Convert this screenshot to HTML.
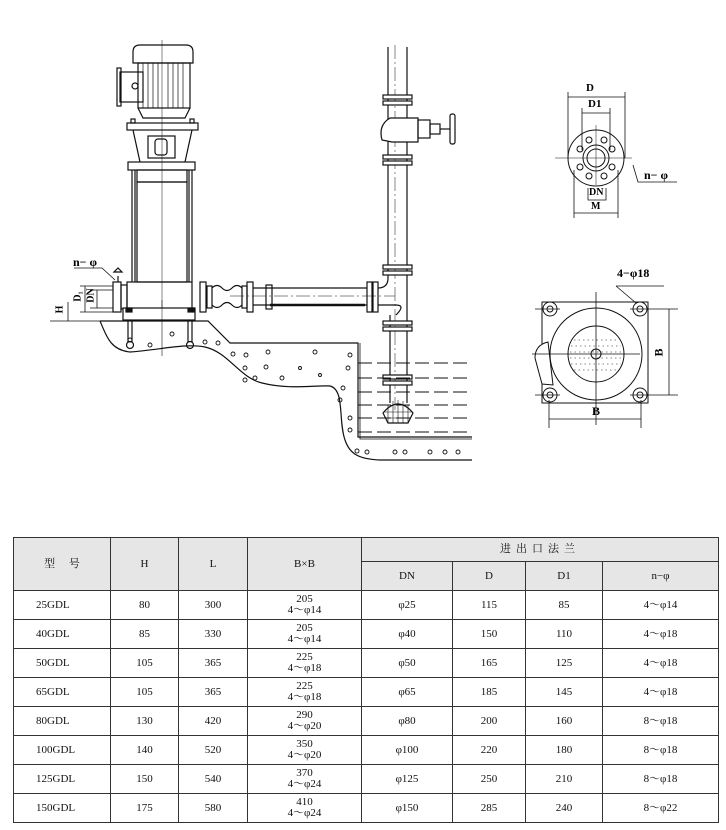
<!DOCTYPE html>
<html><head><meta charset="utf-8">
<style>
html,body{margin:0;padding:0;background:#fff;}
body{width:726px;height:830px;position:relative;overflow:hidden;font-family:"Liberation Serif","Noto Serif CJK SC",serif;}
svg{position:absolute;left:0;top:0;}
table{position:absolute;left:13px;top:537px;border-collapse:collapse;width:705px;font-size:11px;color:#111;table-layout:fixed;}
td{border:1px solid #333;text-align:center;padding:0;height:28px;line-height:11px;overflow:hidden;}
.h td{background:#e6e6e6;}
td.m{text-align:left;padding-left:22px;}
</style></head><body>
<svg width="726" height="530" viewBox="0 0 726 530" fill="none" stroke="#111" stroke-width="1.2">
<path d="M100 321 L208 321 L230 343 L358 343 L358 437 L472 437"/>
<path d="M100 321 C108 340 112 350 130 352 C160 350 185 343 205 347 C228 352 240 378 262 383 C290 390 315 385 330 386 C345 390 338 420 345 440 C350 455 360 459 380 460 L472 460"/>
<path d="M360 343 L360 439 L472 439" stroke-width="0.8"/>
<g stroke-width="0.9">
<circle cx="130" cy="340" r="2"/><circle cx="150" cy="345" r="2"/><circle cx="172" cy="334" r="2"/><circle cx="205" cy="342" r="2"/><circle cx="218" cy="343" r="2"/><circle cx="233" cy="354" r="2"/><circle cx="246" cy="355" r="2"/><circle cx="268" cy="352" r="2"/><circle cx="245" cy="368" r="2"/><circle cx="266" cy="367" r="2"/><circle cx="245" cy="380" r="2"/><circle cx="255" cy="378" r="2"/><circle cx="282" cy="378" r="2"/><circle cx="315" cy="352" r="2"/><circle cx="350" cy="355" r="2"/><circle cx="348" cy="368" r="2"/><circle cx="343" cy="388" r="2"/><circle cx="340" cy="400" r="2"/><circle cx="350" cy="418" r="2"/><circle cx="350" cy="430" r="2"/><circle cx="357" cy="451" r="2"/><circle cx="367" cy="452" r="2"/><circle cx="395" cy="452" r="2"/><circle cx="405" cy="452" r="2"/><circle cx="430" cy="452" r="2"/><circle cx="445" cy="452" r="2"/><circle cx="458" cy="452" r="2"/><circle cx="300" cy="368" r="1.5"/><circle cx="320" cy="375" r="1.5"/>
</g>
<line x1="162" y1="300" x2="162" y2="356" stroke-width="0.6"/>
<path d="M128 320 L128 342 M132 320 L132 342"/><circle cx="130" cy="345" r="3.5"/>
<path d="M188 320 L188 342 M192 320 L192 342"/><circle cx="190" cy="345" r="3.5"/>
<path d="M133 63 L133 52 Q133 45 140 45 L186 45 Q193 45 193 52 L193 63 Z"/>
<rect x="138" y="63" width="52" height="45"/>
<g stroke-width="0.7"><path d="M143 63V108M148 63V108M153 63V108M158 63V108M168 63V108M173 63V108M178 63V108M183 63V108"/></g>
<path d="M138 108 L143 118 L185 118 L190 108"/>
<rect x="120" y="72" width="23" height="30"/><rect x="117" y="68" width="4" height="38"/><circle cx="135" cy="86" r="3"/>
<rect x="127" y="123" width="71" height="7"/><rect x="131" y="119" width="4" height="4"/><rect x="190" y="119" width="4" height="4"/>
<path d="M133 130 L140 162 M192 130 L185 162"/>
<rect x="148" y="136" width="27" height="22"/><rect x="155" y="139" width="12" height="16" rx="3"/>
<rect x="128" y="162" width="67" height="8"/>
<rect x="137" y="170" width="50" height="12"/>
<rect x="137" y="182" width="50" height="100"/>
<path d="M132 170V282 M135 170V282 M189 170V282 M192 170V282"/>
<rect x="127" y="282" width="65" height="30"/>
<rect x="113" y="282" width="8" height="30"/><rect x="121" y="285" width="6" height="24"/>
<path d="M118 282 L118 276 M114 272 L122 272 L118 268 Z"/>
<rect x="123" y="308" width="72" height="12" fill="#fff"/><rect x="126" y="308" width="6" height="4" fill="#111"/><rect x="188" y="308" width="6" height="4" fill="#111"/>
<line x1="162" y1="40" x2="162" y2="320" stroke-width="0.5"/>
<rect x="200" y="282" width="6" height="30"/><rect x="207" y="286" width="5" height="22"/>
<path d="M212 288 Q217 283 222 288 Q227 293 232 288 Q237 283 242 288 M212 305 Q217 310 222 305 Q227 300 232 305 Q237 310 242 305"/>
<rect x="242" y="286" width="5" height="22"/><rect x="247" y="282" width="6" height="30"/>
<path d="M253 288 L367 288 M253 305 L367 305" /><path d="M270 305 L365 305" stroke-width="2.4"/>
<rect x="266" y="285" width="6" height="24"/>
<rect x="367" y="282" width="5" height="30"/><rect x="373" y="282" width="5" height="30"/>
<path d="M378 288 Q388 288 388 278 L388 47 M378 305 L396 305 Q406 305 396 315 M390 315 L390 403 M407 47 L407 403"/>
<line x1="395" y1="45" x2="395" y2="410" stroke-width="0.5" stroke-dasharray="14 3 2 3"/>
<line x1="230" y1="296" x2="395" y2="296" stroke-width="0.5" stroke-dasharray="14 3 2 3"/>
<g fill="#fff"><rect x="383" y="95" width="29" height="4"/><rect x="383" y="101" width="29" height="4"/>
<rect x="383" y="155" width="29" height="4"/><rect x="383" y="161" width="29" height="4"/>
<rect x="383" y="265" width="29" height="4"/><rect x="383" y="271" width="29" height="4"/>
<rect x="383" y="321" width="29" height="4"/><rect x="383" y="327" width="29" height="4"/>
<rect x="383" y="375" width="29" height="4"/><rect x="383" y="381" width="29" height="4"/></g>
<path d="M382 140 Q378 125 390 118 L418 118 L418 142 L392 142 Z" fill="#fff"/>
<rect x="418" y="120" width="12" height="18"/><rect x="430" y="124" width="10" height="10"/>
<path d="M440 129 L450 129"/><rect x="450" y="114" width="5" height="30" rx="2"/>
<path d="M383 413 Q398 395 413 413 L408 423 L388 423 Z"/>
<path d="M388 405V423M393 401V423M398 400V423M403 401V423M408 405V423M384 412H412M386 418H410" stroke-width="0.6"/>
<g stroke-width="0.9" stroke-dasharray="14 5"><path d="M358 363H472M358 378H472M358 392H472M358 405H472M358 418H472M358 432H472"/></g>
<path d="M50 321 L125 321 M68 302 L68 321 M85 286 L85 312 M97 290 L97 308 M80 286 L113 286 M80 312 L113 312 M90 290 L113 290 M90 308 L113 308" stroke-width="0.8"/>
<path d="M74 268 L102 268 L115 280" stroke-width="0.8"/>
<g stroke-width="1">
<circle cx="596" cy="158" r="28"/><circle cx="596" cy="158" r="13"/><circle cx="596" cy="158" r="9"/>
<circle cx="589" cy="140" r="3"/><circle cx="604" cy="140" r="3"/><circle cx="580" cy="149" r="3"/><circle cx="612" cy="149" r="3"/><circle cx="580" cy="167" r="3"/><circle cx="612" cy="167" r="3"/><circle cx="589" cy="176" r="3"/><circle cx="604" cy="176" r="3"/>
<path d="M555 158 L632 158 M596 125 L596 185" stroke-width="0.5"/>
<path d="M568 97 L625 97 M568 92 L568 158 M625 92 L625 158 M582 113 L610 113 M582 108 L582 150 M610 108 L610 150 M574 213 L618 213 M574 170 L574 218 M618 170 L618 218 M588 188 L588 200 L606 200 L606 188 M633 165 L638 182 L677 182" stroke-width="0.8"/>
</g>
<g stroke-width="1">
<rect x="542" y="302" width="106" height="101"/>
<circle cx="596" cy="354" r="46"/><circle cx="596" cy="354" r="28"/><circle cx="596" cy="354" r="5"/>
<g stroke-width="0.6" stroke-dasharray="1.5 3"><path d="M574 340H618M571 346H621M570 352H622M570 358H622M571 364H621M574 370H618"/></g>
<circle cx="550" cy="309" r="7"/><circle cx="550" cy="309" r="3"/><circle cx="640" cy="309" r="7"/><circle cx="640" cy="309" r="3"/>
<circle cx="550" cy="395" r="7"/><circle cx="550" cy="395" r="3"/><circle cx="640" cy="395" r="7"/><circle cx="640" cy="395" r="3"/>
<path d="M535 358 Q535 345 548 342 L553 385 L542 384 Z" fill="#fff"/>
<path d="M532 354 L640 354 M596 292 L596 425 M535 309 L560 309 M630 309 L678 309 M535 395 L560 395 M630 395 L678 395 M669 309 L669 395 M549 400 L549 428 M641 400 L641 428 M549 419 L641 419 M616 286 L636 303 M616 286 L664 286" stroke-width="0.8"/>
</g>
</svg>
<div style="position:absolute;left:586px;top:82px;font:bold 11px 'Liberation Serif',serif;">D</div>
<div style="position:absolute;left:588px;top:98px;font:bold 11px 'Liberation Serif',serif;">D1</div>
<div style="position:absolute;left:589px;top:187px;font:bold 10px 'Liberation Serif',serif;">DN</div>
<div style="position:absolute;left:591px;top:201px;font:bold 10px 'Liberation Serif',serif;">M</div>
<div style="position:absolute;left:644px;top:168px;font:bold 12px 'Liberation Serif',serif;">n− φ</div>
<div style="position:absolute;left:617px;top:266px;font:bold 12px 'Liberation Serif',serif;">4−φ18</div>
<div style="position:absolute;left:655px;top:345px;font:bold 12px 'Liberation Serif',serif;transform:rotate(-90deg);">B</div>
<div style="position:absolute;left:592px;top:404px;font:bold 12px 'Liberation Serif',serif;">B</div>
<div style="position:absolute;left:73px;top:255px;font:bold 12px 'Liberation Serif',serif;">n− φ</div>
<div style="position:absolute;left:56px;top:304px;font:bold 10px 'Liberation Serif',serif;transform:rotate(-90deg);">H</div>
<div style="position:absolute;left:73px;top:291px;font:bold 10px 'Liberation Serif',serif;transform:rotate(-90deg);">D₁</div>
<div style="position:absolute;left:84px;top:290px;font:bold 10px 'Liberation Serif',serif;transform:rotate(-90deg);">DN</div>
<table>
<colgroup><col style="width:97px"><col style="width:68px"><col style="width:69px"><col style="width:114px"><col style="width:91px"><col style="width:73px"><col style="width:77px"><col style="width:116px"></colgroup>
<tr class="h"><td rowspan="2">型 &nbsp;&nbsp;&nbsp;&nbsp;号</td><td rowspan="2">H</td><td rowspan="2">L</td><td rowspan="2">B×B</td><td colspan="4" style="height:23px;letter-spacing:5px">进出口法兰</td></tr>
<tr class="h"><td style="height:24px">DN</td><td>D</td><td>D1</td><td>n−φ</td></tr>
<tr><td class="m">25GDL</td><td>80</td><td>300</td><td>205<br>4～φ14</td><td>φ25</td><td>115</td><td>85</td><td>4～φ14</td></tr>
<tr><td class="m">40GDL</td><td>85</td><td>330</td><td>205<br>4～φ14</td><td>φ40</td><td>150</td><td>110</td><td>4～φ18</td></tr>
<tr><td class="m">50GDL</td><td>105</td><td>365</td><td>225<br>4～φ18</td><td>φ50</td><td>165</td><td>125</td><td>4～φ18</td></tr>
<tr><td class="m">65GDL</td><td>105</td><td>365</td><td>225<br>4～φ18</td><td>φ65</td><td>185</td><td>145</td><td>4～φ18</td></tr>
<tr><td class="m">80GDL</td><td>130</td><td>420</td><td>290<br>4～φ20</td><td>φ80</td><td>200</td><td>160</td><td>8～φ18</td></tr>
<tr><td class="m">100GDL</td><td>140</td><td>520</td><td>350<br>4～φ20</td><td>φ100</td><td>220</td><td>180</td><td>8～φ18</td></tr>
<tr><td class="m">125GDL</td><td>150</td><td>540</td><td>370<br>4～φ24</td><td>φ125</td><td>250</td><td>210</td><td>8～φ18</td></tr>
<tr><td class="m">150GDL</td><td>175</td><td>580</td><td>410<br>4～φ24</td><td>φ150</td><td>285</td><td>240</td><td>8～φ22</td></tr>
</table>
</body></html>
